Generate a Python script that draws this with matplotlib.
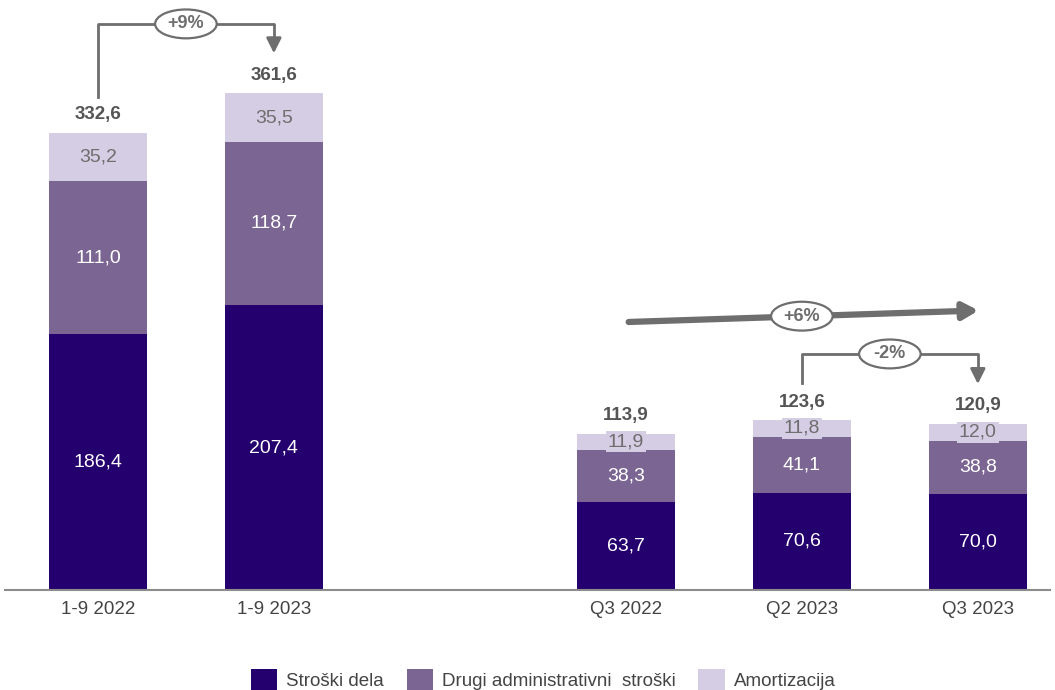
import matplotlib.pyplot as plt
from matplotlib.patches import Ellipse

# podatki
kategorije = ['1-9 2022', '1-9 2023', 'Q3 2022', 'Q2 2023', 'Q3 2023']
pozicije = [0, 1, 3, 4, 5]
stroski_dela = [186.4, 207.4, 63.7, 70.6, 70.0]
drugi_admin = [111.0, 118.7, 38.3, 41.1, 38.8]
amortizacija = [35.2, 35.5, 11.9, 11.8, 12.0]
skupaj = [332.6, 361.6, 113.9, 123.6, 120.9]
serije = ['Stroški dela', 'Drugi administrativni  stroški', 'Amortizacija']

barve = ['#24006E', '#7B6592', '#D5CDE4']
siva = '#6E6E6E'
FONT = ['Liberation Sans', 'DejaVu Sans']
plt.rcParams['font.family'] = FONT


def fmt(v):
    return f"{v:.1f}".replace('.', ',')


fig = plt.figure(figsize=(10.55, 6.9), dpi=100)
ax = fig.add_axes([5 / 1055, 100 / 690, 1045 / 1055, 590 / 690])
sirina = 0.557

dno = [0] * len(pozicije)
for vrednosti, barva, ime in zip([stroski_dela, drugi_admin, amortizacija], barve, serije):
    ax.bar(pozicije, vrednosti, sirina, bottom=dno, color=barva, label=ime)
    for x, v, b in zip(pozicije, vrednosti, dno):
        if barva == barve[2]:
            ax.text(x, b + v / 2, fmt(v), ha='center', va='center', fontsize=14, color=siva,
                    bbox=dict(boxstyle='square,pad=0.1', fc=barva, ec='none'))
        else:
            ax.text(x, b + v / 2, fmt(v), ha='center', va='center', fontsize=14, color='white')
    dno = [d + v for d, v in zip(dno, vrednosti)]

for x, s in zip(pozicije, skupaj):
    ax.text(x, s + 7, fmt(s), ha='center', va='bottom', fontsize=13.5, fontweight='bold',
            color='#555555')

ax.set_xlim(-0.528, 5.41)
ax.set_ylim(0, 429.4)
ax.set_xticks(pozicije)
ax.set_xticklabels(kategorije, fontsize=13.5, color='#444444')
ax.tick_params(axis='x', length=0, pad=8)
ax.set_yticks([])
for s in ['top', 'right', 'left']:
    ax.spines[s].set_visible(False)
ax.spines['bottom'].set_color('#8C8C8C')
ax.spines['bottom'].set_linewidth(1.5)


def oklepaj(x0, x1, y0, y_vrh, y_konec, napis, xe):
    ax.plot([x0, x0, x1, x1], [y0, y_vrh, y_vrh, y_konec + 10], color=siva, lw=2, clip_on=False)
    ax.annotate('', xy=(x1, y_konec), xytext=(x1, y_konec + 12),
                arrowprops=dict(arrowstyle='-|>,head_length=0.9,head_width=0.45', color=siva, lw=2))
    ax.add_patch(Ellipse((xe, y_vrh), 0.35, 21, fc='white', ec=siva, lw=1.6, zorder=5, clip_on=False))
    ax.text(xe, y_vrh, napis, ha='center', va='center', fontsize=13, fontweight='bold', color=siva,
            zorder=6)


oklepaj(pozicije[0], pozicije[1], skupaj[0] + 26, 412, skupaj[1] + 27, '+9%', 0.5)
oklepaj(pozicije[3], pozicije[4], skupaj[3] + 27, 171.8, skupaj[4] + 27, '-2%', 4.5)

# trend +6%
ax.annotate('', xy=(pozicije[4] + 0.02, 203.5), xytext=(pozicije[2], 195),
            arrowprops=dict(arrowstyle='-|>,head_length=0.9,head_width=0.5', color=siva, lw=4.5))
ax.add_patch(Ellipse((4.0, 199.3), 0.35, 21, fc='white', ec=siva, lw=1.6, zorder=5))
ax.text(4.0, 199.3, '+6%', ha='center', va='center', fontsize=13, fontweight='bold', color=siva,
        zorder=6)

leg = fig.legend(loc='lower center', bbox_to_anchor=(0.515, -0.025), ncol=3, frameon=False,
                 fontsize=13.5, handlelength=1.4, handleheight=1.4, columnspacing=1.2, handletextpad=0.5)
for t in leg.get_texts():
    t.set_color('#444444')

fig.savefig('out.png', dpi=100)
